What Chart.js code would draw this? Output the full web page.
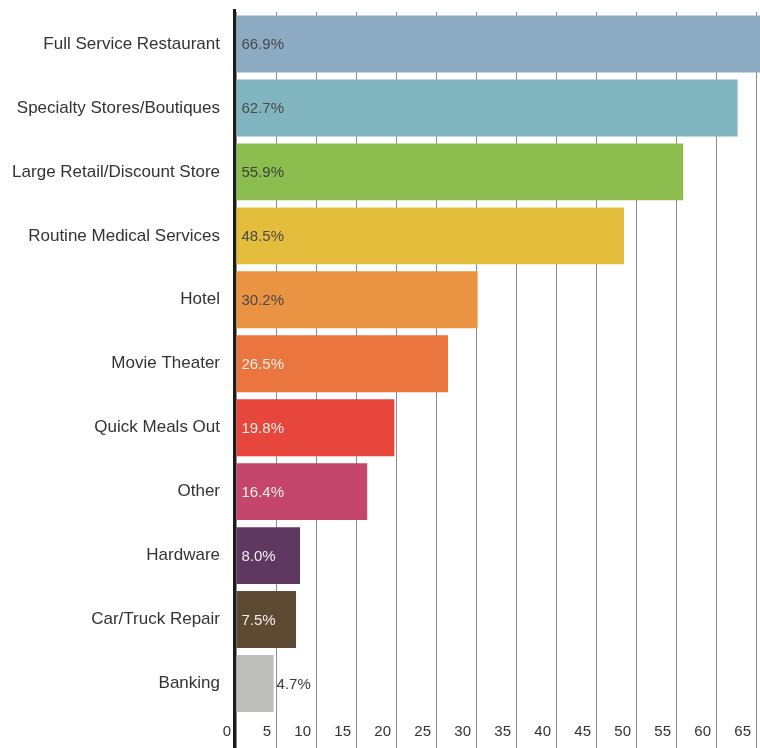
<!DOCTYPE html>
<html>
<head>
<meta charset="utf-8">
<title>Where people go</title>
<script src="https://cdn.jsdelivr.net/npm/chart.js@4.4.1/dist/chart.umd.min.js"></script>
<style>
  html, body { margin: 0; padding: 0; background: #ffffff; }
  #wrap { position: relative; width: 760px; height: 748px; }
</style>
</head>
<body>
<div id="wrap"><canvas id="placesChart"></canvas></div>
<script>
// Data
const categories = [
    'Full Service Restaurant',
    'Specialty Stores/Boutiques',
    'Large Retail/Discount Store',
    'Routine Medical Services',
    'Hotel',
    'Movie Theater',
    'Quick Meals Out',
    'Other',
    'Hardware',
    'Car/Truck Repair',
    'Banking'
];
const percentages = [66.9, 62.7, 55.9, 48.5, 30.2, 26.5, 19.8, 16.4, 8.0, 7.5, 4.7];
const xTicks = [0, 5, 10, 15, 20, 25, 30, 35, 40, 45, 50, 55, 60, 65];

// Styling
const barColors = [
    '#8daac3', '#80b5bf', '#8bbd4f', '#e5bd3c', '#ea9342', '#ea753e',
    '#e6463b', '#c4466d', '#5e385e', '#5d4a33', '#bdbdbb'
];
const valueColors = [
    '#4a4a4a', '#4a4a4a', '#404040', '#4a4a4a', '#4a4a4a', '#f6efe6',
    '#f6efe6', '#f6efe6', '#f2ecee', '#f2ecee', '#3a3a3a'
];
const FONT = "'Liberation Sans', Arial, sans-serif";

// Thick dark axis line down the left edge of the bars
const axisLine = {
    id: 'axisLine',
    afterDatasetsDraw(chart) {
        const { ctx, chartArea } = chart;
        ctx.save();
        ctx.strokeStyle = '#1c1c1c';
        ctx.lineWidth = 3;
        ctx.beginPath();
        ctx.moveTo(chartArea.left - 1.5, chartArea.top - 3);
        ctx.lineTo(chartArea.left - 1.5, chart.height);
        ctx.stroke();
        ctx.restore();
    }
};

// Percent labels at the start of each bar (outside for short bars)
const valueLabels = {
    id: 'valueLabels',
    afterDatasetsDraw(chart) {
        const { ctx } = chart;
        const meta = chart.getDatasetMeta(0);
        ctx.save();
        ctx.font = '15px ' + FONT;
        ctx.textAlign = 'left';
        ctx.textBaseline = 'middle';
        meta.data.forEach((bar, i) => {
            const v = percentages[i];
            const x = v < 5 ? bar.x + 3 : bar.base + 5;
            ctx.fillStyle = valueColors[i];
            ctx.fillText(v.toFixed(1) + '%', x, bar.y + 1);
        });
        ctx.restore();
    }
};

const ctx = document.getElementById('placesChart').getContext('2d');
new Chart(ctx, {
    type: 'bar',
    data: {
        labels: categories,
        datasets: [{
            data: percentages,
            backgroundColor: barColors,
            borderWidth: 0,
            barPercentage: 0.89,
            categoryPercentage: 1.0
        }]
    },
    options: {
        indexAxis: 'y',
        responsive: true,
        maintainAspectRatio: false,
        animation: false,
        layout: { padding: { top: 12, left: 0, right: 0, bottom: 0 } },
        plugins: {
            legend: { display: false },
            tooltip: { enabled: false }
        },
        scales: {
            x: {
                min: 0,
                max: 65.5,
                afterBuildTicks: (scale) => {
                    scale.ticks = xTicks.map(v => ({ value: v }));
                },
                afterFit: (scale) => {
                    scale.height = 32.5;
                    scale.paddingLeft = 0;
                    scale.paddingRight = 0;
                },
                border: { display: false },
                grid: {
                    color: '#8c8c8c',
                    lineWidth: 1,
                    drawTicks: true,
                    tickLength: 33
                },
                ticks: {
                    autoSkip: false,
                    maxRotation: 0,
                    align: 'end',
                    labelOffset: -5,
                    padding: -26,
                    color: '#333333',
                    font: { family: FONT, size: 15 }
                }
            },
            y: {
                afterFit: (scale) => {
                    scale.width = 236;
                    scale.paddingTop = 0;
                    scale.paddingBottom = 0;
                },
                border: { display: false },
                grid: { display: false, drawTicks: false },
                ticks: {
                    padding: 16,
                    color: '#333333',
                    font: { family: FONT, size: 17 }
                }
            }
        }
    },
    plugins: [axisLine, valueLabels]
});
</script>
</body>
</html>
